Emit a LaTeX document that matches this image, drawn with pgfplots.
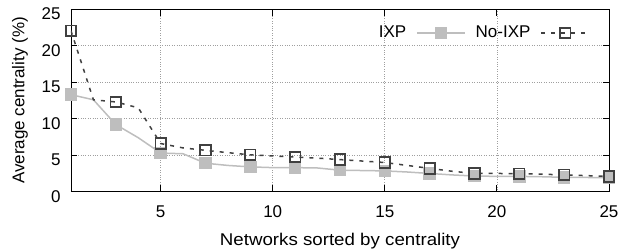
\documentclass[border=0pt]{standalone}
\usepackage{fontspec}
\setmainfont{Liberation Sans}
\newfontfamily\xlabfont[FakeStretch=1.1]{Liberation Sans}
\usepackage{pgfplots}
\pgfplotsset{compat=1.18}
\definecolor{ixpgray}{RGB}{190,190,190}
\definecolor{noixp}{RGB}{64,64,64}
\pgfplotstableread{
x y
1 13.3
2 12.6
3 9.2
4 7.4
5 5.3
6 5.2
7 3.9
8 3.6
9 3.4
10 3.3
11 3.3
12 3.25
13 2.95
14 2.9
15 2.85
16 2.7
17 2.5
18 2.3
19 2.15
20 2.1
21 2.1
22 2.05
23 1.97
24 1.95
25 1.9
}\ixp
\pgfplotstableread{
x y
1 22.05
2 12.6
3 12.3
4 11.5
5 6.6
6 6.0
7 5.67
8 5.35
9 5.05
10 4.9
11 4.75
12 4.6
13 4.4
14 4.2
15 4.0
16 3.6
17 3.2
18 2.8
19 2.5
20 2.5
21 2.47
22 2.4
23 2.3
24 2.2
25 2.1
}\noixp
\begin{document}
\fontsize{17}{20}\selectfont
\begin{tikzpicture}
\begin{axis}[
  at={(0pt,0pt)}, anchor=south west,
  scale only axis, width=538pt, height=182.4pt,
  xmin=1, xmax=25, ymin=0, ymax=25,
  xtick={5,10,15,20,25}, ytick={0,5,10,15,20,25},
  tick align=inside, major tick length=6.5pt,
  axis line style={line width=0.9pt},
  tick style={line width=0.9pt, black},
  grid=major, grid style={dotted, line width=0.8pt, gray!75},
  xlabel={Networks sorted by centrality},
  ylabel={Average centrality (\%)},
  /pgf/number format/assume math mode=true,
  ticklabel style={font=\fontsize{17}{20}\selectfont},
  label style={font=\fontsize{17}{20}\selectfont},
  xticklabel style={anchor=base, yshift=-25.6pt},
  yticklabel style={anchor=east, inner sep=0pt, xshift=-10.3pt, yshift=-4.5pt},
  xlabel style={at={([yshift=-53.3pt]rel axis cs:0.5,0)}, anchor=base,
    font=\xlabfont\fontsize{17}{20}\selectfont},
  ylabel style={at={([xshift=-51pt]rel axis cs:0,0.5)}, anchor=center},
  legend plot pos=right, legend columns=2,
  legend style={draw=none, fill=none, inner sep=0pt, outer sep=0pt,
    at={(rel axis cs:0.9647,0.870)}, anchor=east,
    nodes={inner sep=0pt},
    font=\fontsize{17}{20}\selectfont, column sep=10pt},
  legend image code/.code={\draw[#1, mark repeat=2, mark phase=2] plot coordinates {(0pt,0pt)(24pt,0pt)(48pt,0pt)};},
]
\addplot[color=ixpgray, line width=1.5pt, mark=square*, mark size=5.5pt,
  mark options={solid, fill=ixpgray, draw=ixpgray}, mark repeat=2, mark phase=1]
  table[x=x,y=y]{\ixp};
\addlegendentry{IXP}
\addplot[color=noixp, line width=1.5pt, dash pattern=on 4pt off 6pt, mark=square, mark size=5.3pt,
  mark options={solid, line width=1.7pt, fill=none}, mark repeat=2, mark phase=1]
  table[x=x,y=y]{\noixp};
\addlegendentry{No-IXP}
\end{axis}
\pgfresetboundingbox
\path[use as bounding box] (-71pt,-57.3pt) rectangle (550pt,191.7pt);
\end{tikzpicture}
\end{document}
